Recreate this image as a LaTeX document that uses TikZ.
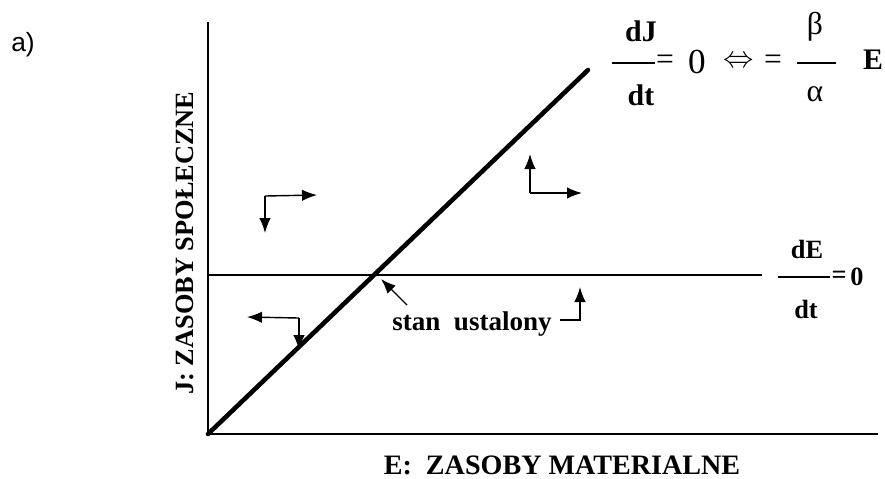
\documentclass[tikz,border=0pt]{standalone}
\usepackage{fontspec}
\setmainfont{Liberation Serif}
\newfontfamily\tagfont{Liberation Sans}
\usetikzlibrary{arrows.meta,positioning,calc}

\begin{document}
\begin{tikzpicture}[
    x=0.02cm,y=-0.02cm,
    axis/.style = {line width=1.6pt,black},
    diag/.style = {line width=2.6pt,black,line cap=round},
    flat/.style = {line width=0.7pt,black},
    bar/.style  = {line width=0.9pt,black},
    fl/.style   = {-{Latex[length=3mm,width=2.3mm]},line width=0.8pt,black},
    lbl/.style  = {font=\fontsize{15}{18}\selectfont\bfseries,inner sep=0pt},
    eqb/.style  = {font=\fontsize{17}{20}\selectfont\bfseries,inner sep=0pt},
    eqn/.style  = {font=\fontsize{18}{21}\selectfont,inner sep=0pt},
    eqs/.style  = {font=\fontsize{15}{18}\selectfont\bfseries,inner sep=0pt},
  ]
  \useasboundingbox (0,0) rectangle (885,478);

  % axes
  \coordinate (O)    at (208,434);
  \coordinate (ytop) at (208,22);
  \coordinate (xend) at (878,434);
  \draw[axis] (ytop) -- (O) -- (xend);

  \node[font=\tagfont\fontsize{15}{18}\selectfont,inner sep=0pt] (tag) at (23,45) {a)};

  \node[lbl,font=\fontsize{16}{19}\selectfont\bfseries] (xlab) at (562,465) {E:\ \ ZASOBY MATERIALNE};
  \node[lbl,rotate=90] (ylab) at (185,243) {J:\ ZASOBY SPOŁECZNE};

  % dJ/dt = 0 line and dE/dt = 0 line
  \coordinate (dtop) at (588,70);
  \coordinate (h0)   at (208,275);
  \coordinate (h1)   at (762,275);
  \coordinate (S)    at (376,275);
  \draw[flat] (h0) -- (h1);
  \draw[diag] (O) -- (dtop);

  % top equation
  \node[eqb] (dj)   at (641,31)  {dJ};
  \node[eqb] (djt)  at (641,95)  {dt};
  \coordinate (b1l) at (612,63);
  \coordinate (b1r) at (655,63);
  \draw[bar] (b1l) -- (b1r);
  \node[eqn] (eq1)  at (665,62)  {=};
  \node[eqn,font=\fontsize{20}{24}\selectfont] (zr1) at (697,62) {0};
  \node[eqn] (iff)  at (739,62)  {$\Leftrightarrow$};
  \node[eqn] (eq2)  at (773,62)  {=};
  \node[eqn] (beta) at (815,27)  {β};
  \node[eqn] (alp)  at (815,94)  {α};
  \coordinate (b2l) at (797,63);
  \coordinate (b2r) at (836,63);
  \draw[bar] (b2l) -- (b2r);
  \node[eqb] (ee)   at (873,60)  {E};

  % right equation
  \node[eqs] (de)   at (807,249) {dE};
  \node[eqs] (det)  at (806,309) {dt};
  \coordinate (b3l) at (778,277);
  \coordinate (b3r) at (830,277);
  \draw[bar] (b3l) -- (b3r);
  \node[eqs] (eq3)  at (839,277) {=};
  \node[eqs] (zr3)  at (857,277) {0};

  % direction arrows
  \coordinate (c1) at (265,196);
  \coordinate (c1d) at (265,233);
  \coordinate (c1r) at (317,195);
  \draw[fl] (c1) -- (c1d);
  \draw[fl] (c1) -- (c1r);

  \coordinate (c2) at (530,193);
  \coordinate (c2u) at (530,154);
  \coordinate (c2r) at (582,193);
  \draw[fl] (c2) -- (c2u);
  \draw[fl] (c2) -- (c2r);

  \coordinate (c3) at (299,318);
  \coordinate (c3l) at (247,317);
  \coordinate (c3d) at (299,350);
  \draw[fl] (c3) -- (c3l);
  \draw[fl] (c3) -- (c3d);

  % steady state
  \node[lbl,anchor=west,font=\fontsize{15.4}{18}\selectfont\bfseries] (st) at (392,324) {stan\ \ ustalony};
  \coordinate (stp) at (407,305);
  \coordinate (sti) at (381,279);
  \draw[fl] (stp) -- (sti);
  \coordinate (stc) at (580,320);
  \coordinate (stu) at (580,287);
  \draw[fl] ($(st.east)+(8,-4)$) -- (stc) -- (stu);

\end{tikzpicture}
\end{document}
